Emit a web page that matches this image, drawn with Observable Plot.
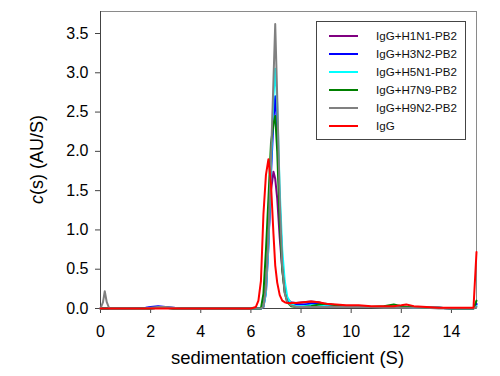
<!DOCTYPE html>
<html>
<head>
<meta charset="utf-8">
<script src="https://cdn.jsdelivr.net/npm/d3@7"></script>
<script src="https://cdn.jsdelivr.net/npm/@observablehq/plot@0.6"></script>
<style>
  body { margin: 0; background: white; }
  #wrap { position: relative; width: 500px; height: 376px; font-family: "Liberation Sans", Arial, sans-serif; }
  #legend { position: absolute; left: 316px; top: 21px; width: 148px; height: 117px; border: 1px solid #444; background: white; }
  .row { position: absolute; left: 0; height: 18px; width: 148px; }
  .sw { position: absolute; left: 12px; top: 8px; width: 29px; height: 2px; }
  .lb { position: absolute; left: 59px; top: 2px; font-size: 11.6px; line-height: 14px; color: #111; white-space: nowrap; }
</style>
</head>
<body>
<div id="wrap"></div>
<script>
const xs = [0, 0.1, 0.17, 0.25, 0.35, 1, 1.8, 2.0, 2.3, 2.6,
            2.9, 3.2, 4, 5, 6, 6.2, 6.3, 6.4, 6.5, 6.6,
            6.7, 6.8, 6.9, 6.97, 7.05, 7.15, 7.25, 7.35, 7.45, 7.6,
            7.8, 8.1, 8.4, 8.7, 9.0, 9.4, 9.8, 10.3, 10.8, 11.3,
            11.7, 12.0, 12.2, 12.5, 13.0, 13.5, 14.0, 14.5, 14.88, 15];

const seriesNames = ["IgG+H1N1-PB2", "IgG+H3N2-PB2", "IgG+H5N1-PB2", "IgG+H7N9-PB2", "IgG+H9N2-PB2", "IgG"];
const seriesColors = ["#800080", "#0000ff", "#00ffff", "#008000", "#808080", "#ff0000"];

const h1n1 = [0, 0, 0, 0, 0, 0, 0, 0, 0.01, 0.01,
              0, 0, 0, 0, 0, 0, 0, 0, 0.03, 0.3,
              0.9, 1.5, 1.74, 1.65, 1.4, 0.9, 0.5, 0.22, 0.12, 0.08,
              0.07, 0.08, 0.09, 0.08, 0.05, 0.04, 0.03, 0.03, 0.02, 0.02,
              0.02, 0.02, 0.02, 0.01, 0.01, 0.01, 0, 0, 0, 0.05];
const h3n2 = [0, 0, 0, 0, 0, 0, 0.01, 0.02, 0.03, 0.02,
              0.01, 0, 0, 0, 0, 0, 0, 0, 0.02, 0.2,
              0.8, 1.7, 2.4, 2.7, 2.3, 1.3, 0.6, 0.25, 0.1, 0.06,
              0.05, 0.05, 0.06, 0.06, 0.05, 0.04, 0.03, 0.03, 0.02, 0.02,
              0.02, 0.02, 0.02, 0.01, 0.01, 0.01, 0, 0, 0, 0.06];
const h5n1 = [0, 0, 0, 0, 0, 0, 0, 0, 0.01, 0.01,
              0, 0, 0, 0, 0, 0, 0, 0, 0.02, 0.2,
              0.8, 1.8, 2.7, 3.05, 2.6, 1.5, 0.75, 0.35, 0.15, 0.06,
              0.03, 0.03, 0.04, 0.04, 0.03, 0.03, 0.02, 0.02, 0.02, 0.02,
              0.02, 0.02, 0.02, 0.01, 0.01, 0.01, 0, 0, 0, 0.03];
const h7n9 = [0, 0, 0, 0, 0, 0, 0, 0, 0.01, 0.01,
              0, 0, 0, 0, 0, 0, 0, 0, 0.19, 0.74,
              1.4, 2.1, 2.35, 2.45, 2.0, 1.1, 0.5, 0.2, 0.08, 0.03,
              0.02, 0.02, 0.03, 0.05, 0.06, 0.04, 0.03, 0.02, 0.02, 0.03,
              0.05, 0.03, 0.02, 0.02, 0.01, 0.01, 0, 0, 0, 0.1];
const h9n2 = [0, 0.08, 0.22, 0.08, 0, 0, 0, 0.01, 0.02, 0.02,
              0.01, 0, 0, 0, 0, 0, 0, 0, 0.02, 0.25,
              0.9, 1.9, 2.9, 3.62, 2.7, 1.4, 0.55, 0.2, 0.08, 0.04,
              0.02, 0.02, 0.02, 0.02, 0.02, 0.02, 0.02, 0.02, 0.02, 0.01,
              0.01, 0.01, 0.01, 0.01, 0.01, 0, 0, 0, 0, 0.02];
const igg  = [0, 0, 0, 0, 0, 0, 0, 0, 0, 0,
              0, 0, 0, 0, 0, 0.02, 0.1, 0.35, 1.2, 1.7,
              1.9, 1.59, 0.95, 0.55, 0.33, 0.17, 0.1, 0.08, 0.07, 0.07,
              0.07, 0.08, 0.09, 0.08, 0.06, 0.05, 0.04, 0.04, 0.03, 0.03,
              0.03, 0.04, 0.05, 0.03, 0.02, 0.01, 0.01, 0.01, 0.01, 0.72];

const xTicks = [0, 2, 4, 6, 8, 10, 12, 14];
const yTicks = [0, 0.5, 1.0, 1.5, 2.0, 2.5, 3.0, 3.5];
const xTitle = "sedimentation coefficient (S)";

const allSeries = [h1n1, h3n2, h5n1, h7n9, h9n2, igg];
const rows = allSeries.flatMap((ys, i) => xs.map((x, j) => ({series: seriesNames[i], x, y: ys[j]})));

const chart = Plot.plot({
  width: 500,
  height: 376,
  marginLeft: 100,
  marginRight: 24,
  marginTop: 11,
  marginBottom: 68,
  style: {fontFamily: "Liberation Sans, Arial, sans-serif", background: "white", color: "black"},
  x: {domain: [0, 15]},
  y: {domain: [0, 3.78]},
  color: {domain: seriesNames, range: seriesColors},
  marks: [
    Plot.frame({stroke: "#8a8a8a"}),
    Plot.ruleX([0], {stroke: "#444"}),
    Plot.ruleY([0], {stroke: "#444"}),
    Plot.axisX({ticks: xTicks, tickSize: 5, tickPadding: 12, fontSize: 16, label: null, stroke: "#444"}),
    Plot.axisY({ticks: yTicks, tickSize: 5, tickPadding: 7, fontSize: 16, label: null, tickFormat: d3.format(".1f"), stroke: "#444"}),
    Plot.line(rows, {x: "x", y: "y", z: "series", stroke: "series", strokeWidth: 2})
  ]
});

const svg = d3.select(chart);
const yl = svg.append("text")
  .attr("transform", "translate(43,159.5) rotate(-90)")
  .attr("text-anchor", "middle")
  .attr("font-size", 18)
  .attr("fill", "black");
yl.append("tspan").attr("font-style", "italic").text("c");
yl.append("tspan").text("(s) (AU/S)");
svg.append("text")
  .attr("x", 287.5).attr("y", 364)
  .attr("text-anchor", "middle")
  .attr("font-size", 18.5)
  .attr("fill", "black")
  .text(xTitle);

const wrap = document.getElementById("wrap");
wrap.appendChild(chart);

const legend = document.createElement("div");
legend.id = "legend";
seriesNames.forEach((name, i) => {
  const row = document.createElement("div");
  row.className = "row";
  row.style.top = (4.5 + i * 18) + "px";
  const sw = document.createElement("div");
  sw.className = "sw";
  sw.style.background = seriesColors[i];
  const lb = document.createElement("div");
  lb.className = "lb";
  lb.textContent = name;
  row.appendChild(sw);
  row.appendChild(lb);
  legend.appendChild(row);
});
wrap.appendChild(legend);
</script>
</body>
</html>
